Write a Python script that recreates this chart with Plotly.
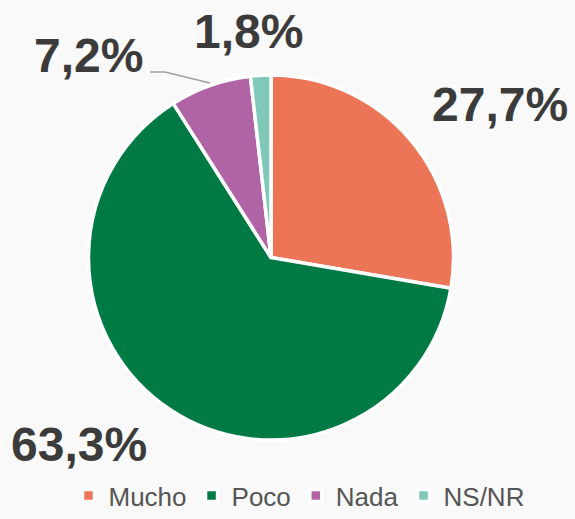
import plotly.graph_objects as go

categories = ["Mucho", "Poco", "Nada", "NS/NR"]
values = [27.7, 63.3, 7.2, 1.8]
labels_text = ["27,7%", "63,3%", "7,2%", "1,8%"]
colors = ["#EC7558", "#007A45", "#B064A6", "#80C9B9"]

# label anchors (paper coords), one per slice
label_x = [0.8696, 0.1374, 0.1539, 0.433]
label_y = [0.7996, 0.1445, 0.894, 0.939]

fig = go.Figure(go.Pie(
    labels=categories,
    values=values,
    text=labels_text,
    textinfo="none",
    sort=False,
    direction="clockwise",
    rotation=0,
    marker=dict(colors=colors, line=dict(color="white", width=3.5)),
    domain=dict(x=[0.1530, 0.7896], y=[0.1522, 0.8555]),
    hovertemplate="<b>%{label}</b><br>%{text}<extra></extra>",
))

for txt, lx, ly in zip(labels_text, label_x, label_y):
    fig.add_annotation(
        x=lx, y=ly, xref="paper", yref="paper",
        text=f"<b>{txt}</b>", showarrow=False,
        xanchor="center", yanchor="middle",
        font=dict(family="Liberation Sans", size=48, color="#3B3B3B"),
    )

# leader line for the Nada label
fig.add_shape(
    type="path", xref="paper", yref="paper",
    path="M 0.2609,0.8613 L 0.2870,0.8613 L 0.3652,0.8401",
    line=dict(color="#A0A0A0", width=1.5),
)

fig.update_layout(
    width=575,
    height=519,
    margin=dict(l=0, r=0, t=0, b=0),
    paper_bgcolor="#F9F9F9",
    plot_bgcolor="#F9F9F9",
    font=dict(family="Liberation Sans", color="#555555"),
    legend=dict(
        orientation="h",
        x=0.52, xanchor="center",
        y=0.0, yanchor="bottom",
        font=dict(size=26, color="#555555"),
        itemwidth=30,
    ),
)

fig.write_html(
    "out.html",
    config={"displayModeBar": False},
    post_script="document.body.style.margin='0';document.body.style.background='#F9F9F9';",
)
